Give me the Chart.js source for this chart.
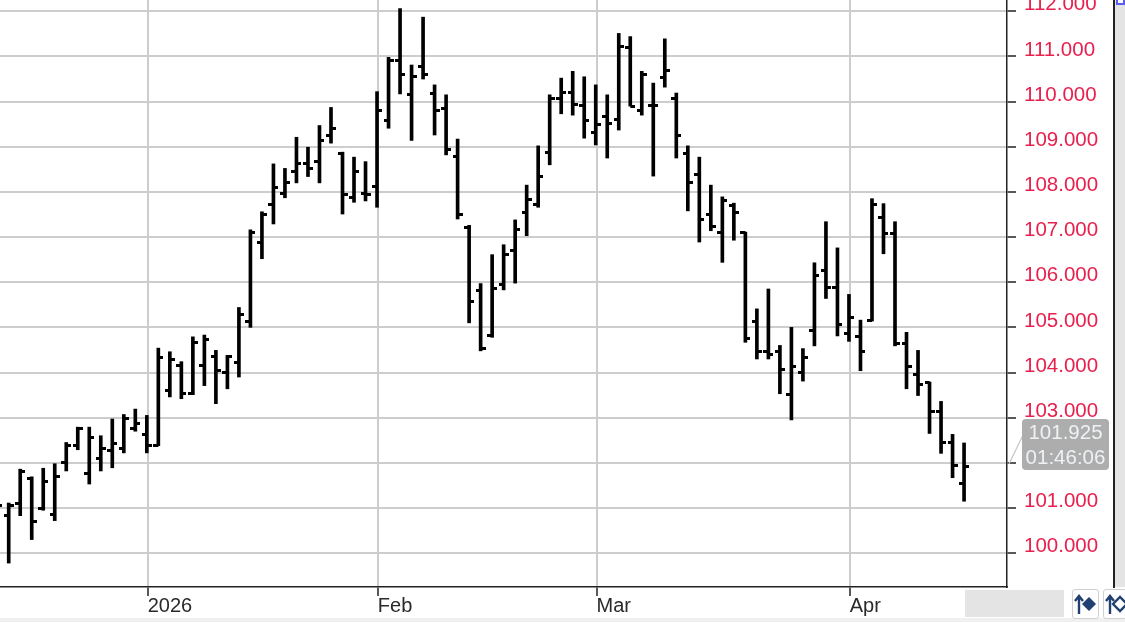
<!DOCTYPE html>
<html>
<head>
<meta charset="utf-8">
<title>OHLC chart</title>
<script src="https://cdn.jsdelivr.net/npm/chart.js@4/dist/chart.umd.min.js"></script>
<style>
  html, body { margin: 0; padding: 0; background: #fff; overflow: hidden; }
  #wrap { position: relative; width: 1125px; height: 622px; overflow: hidden; font-family: "Liberation Sans", sans-serif; }
  #plot { position: absolute; left: 0; top: 0; filter: blur(0.35px); }
  .side { position: absolute; left: 1115px; top: 0; width: 10px; height: 587px; background: #e4e4e4; }
  .sideline { position: absolute; left: 1113px; top: 0; width: 2px; height: 588px; background: #222; }
  .foot { position: absolute; left: 0; top: 618px; width: 1125px; height: 4px; background: #f0f0f0; }
  .block { position: absolute; left: 965px; top: 590px; width: 99px; height: 27px; background: #e4e4e4; }
  .blue { position: absolute; left: 1116px; top: 0; width: 9px; height: 5px; background: #fff; border: 2px solid #5a5af0; border-top: 0; box-sizing: border-box; }
  .btn { position: absolute; top: 589px; width: 27px; height: 30px; box-sizing: border-box; border: 1px solid #d0d0d0; border-radius: 3px; background: #fff; }
  #last { position: absolute; left: 1022px; top: 419px; width: 87px; height: 51px; background: #adadad; border-radius: 4px; color: #eef2f4; font-size: 20.5px; line-height: 25px; text-align: center; filter: blur(0.25px); }
  #link { position: absolute; left: 1008px; top: 430px; }
</style>
</head>
<body>
<div id="wrap">
  <div class="side"></div>
  <div class="blue"></div>
  <div class="foot"></div>
  <div class="block"></div>
  <div class="btn" style="left:1072px">
    <svg width="25" height="28"><path d="M6 24V8M2 11l4-5 4 5" stroke="#1f4070" stroke-width="2.4" fill="none"/><path d="M9 14l7-7 7 7-7 7z" fill="#1f4070"/></svg>
  </div>
  <div class="btn" style="left:1103px;width:24px">
    <svg width="25" height="28"><path d="M6 24V8M2 11l4-5 4 5" stroke="#1f4070" stroke-width="2.4" fill="none"/><path d="M9 14l7-7 7 7-7 7z" fill="none" stroke="#1f4070" stroke-width="2.4"/></svg>
  </div>
  <canvas id="plot" width="1125" height="622"></canvas>
  <div class="sideline"></div>
  <svg id="link" width="16" height="36"><path d="M1 34L15 5" stroke="#c4c4c4" stroke-width="1.2" fill="none"/></svg>
  <div id="last">101.925<br>01:46:06</div>
</div>

<script>
// first entry is the bar cut off by the left edge
const opens = [101.05,
  100.83,101.09,101.66,100.99,100.86,102.00,102.39,101.77,102.10,102.28,102.32,102.75,
  102.62,102.39,103.61,104.15,103.53,104.15,104.36,104.01,104.23,105.13,106.89,107.72,
  107.97,108.45,108.64,108.68,109.26,108.85,107.87,107.97,108.12,109.59,110.90,110.16,
  110.78,110.19,109.84,108.79,107.22,105.82,104.82,105.96,106.70,107.54,107.71,108.88,
  110.06,110.20,109.91,109.32,109.66,109.61,111.19,109.80,109.91,110.53,110.06,108.85,
  108.38,107.50,107.10,107.69,107.10,105.13,104.47,104.47,103.52,104.00,104.94,106.26,
  105.89,104.87,104.80,105.16,107.43,107.07,104.65,103.96,103.79,103.13,102.46,101.55];
const highs = [101.10,
  101.11,101.86,101.69,101.88,101.98,102.45,102.79,102.79,102.60,102.97,103.07,103.19,
  103.05,104.54,104.46,104.24,104.79,104.83,104.49,104.38,105.44,107.16,107.56,108.62,
  108.52,109.21,108.99,109.47,109.87,108.88,108.77,108.67,110.22,110.98,112.06,110.81,
  111.87,110.37,110.15,109.17,107.26,105.97,106.61,106.83,107.38,108.15,109.02,110.15,
  110.52,110.67,110.55,110.37,110.15,111.51,111.44,110.67,110.41,111.39,110.19,109.02,
  108.77,108.15,107.89,107.75,107.11,105.41,105.85,104.60,105.00,104.53,106.43,107.34,
  106.76,105.73,105.16,107.85,107.74,107.34,104.89,104.49,103.79,103.36,102.63,102.44];
const lows = [101.00,
  99.78,100.83,100.30,100.95,100.72,101.82,102.29,101.53,101.82,101.89,102.22,102.70,
  102.22,102.38,103.46,103.42,103.51,103.71,103.31,103.64,103.90,105.00,106.52,107.29,
  107.87,108.20,108.34,108.20,109.08,107.51,107.77,107.80,107.66,109.41,110.17,109.14,
  110.50,109.26,108.82,107.40,105.10,104.48,104.78,105.83,105.98,107.03,107.66,108.60,
  109.73,109.70,109.19,109.04,108.75,109.37,109.90,109.70,108.35,110.32,108.75,107.58,
  106.89,107.14,106.44,106.93,104.67,104.30,104.30,103.53,102.95,103.81,104.59,105.64,
  104.81,104.69,104.04,105.14,106.63,104.59,103.64,103.49,102.65,102.21,101.67,101.15];
const closes = [101.05,
  101.05,101.80,100.69,101.59,101.70,102.39,102.77,102.55,102.32,102.43,102.99,102.88,
  102.39,104.33,104.29,103.53,104.66,104.73,104.04,104.35,105.28,107.10,107.51,108.09,
  108.20,108.64,108.52,109.14,109.41,107.94,108.45,107.94,109.80,110.91,110.60,110.56,
  110.59,109.80,108.93,107.49,105.57,104.54,105.86,106.62,107.17,107.83,108.34,110.06,
  110.20,109.94,109.58,109.50,109.51,111.22,109.90,110.61,109.91,110.68,109.25,108.20,
  107.39,107.24,107.81,107.54,104.76,104.47,104.40,104.06,104.14,104.33,106.15,105.89,
  105.06,105.21,104.47,107.73,107.07,104.65,104.14,103.74,103.13,102.46,101.95,101.92];

const priceTicks = [100,101,102,103,104,105,106,107,108,109,110,111,112];
const monthTicks = [13.07,33.07,52.07,74.07];
const monthLabels = ["2026","Feb","Mar","Apr"];

// open tick sticks out left of the bar, close tick right
function tickMark(side){
  const c = document.createElement("canvas");
  c.width = 10;
  c.height = 3;
  const g = c.getContext("2d");
  g.fillStyle = "#000";
  g.fillRect(side === "left" ? 0 : 5, 0, 5, 3);
  return c;
}

// labels must not push the plot away from the edges
function noMargins(s){
  s.paddingLeft = s.paddingRight = s.paddingTop = s.paddingBottom = 0;
}

new Chart("plot", {
  data: {
    datasets: [
      {
        type: "bar",
        data: highs.map((h, i) => ({ x: i, y: [lows[i], h] })),
        backgroundColor: "#000",
        barThickness: 3,
        borderSkipped: false
      },
      {
        type: "line",
        showLine: false,
        data: opens.map((v, i) => ({ x: i, y: v })),
        pointStyle: tickMark("left"),
        pointRadius: 5
      },
      {
        type: "line",
        showLine: false,
        data: closes.map((v, i) => ({ x: i, y: v })),
        pointStyle: tickMark("right"),
        pointRadius: 5
      }
    ]
  },
  options: {
    responsive: false,
    animation: false,
    plugins: { legend: { display: false }, tooltip: { enabled: false } },
    layout: { padding: 0, autoPadding: false },
    scales: {
      x: {
        type: "linear",
        offset: false,
        min: 0.244,
        max: 87.73,
        afterBuildTicks: s => { s.ticks = monthTicks.map(v => ({ value: v })); },
        afterFit: s => { s.height = 35; noMargins(s); },
        grid: { offset: false, color: "#cdcdcd", lineWidth: 2, tickColor: "#222", tickLength: 9, tickWidth: 1.5 },
        border: { color: "#222", width: 1.5 },
        ticks: {
          autoSkip: false,
          maxRotation: 0,
          align: "start",
          padding: -2,
          color: "#2a2a2a",
          font: { family: "Liberation Sans", size: 20 },
          callback: (v, i) => monthLabels[i]
        }
      },
      y: {
        position: "right",
        min: 99.25,
        max: 112.25,
        afterBuildTicks: s => { s.ticks = priceTicks.map(v => ({ value: v })); },
        afterFit: s => { s.width = 118; noMargins(s); },
        grid: { color: "#cdcdcd", lineWidth: 2, tickColor: "#222", tickLength: 9, tickWidth: 1.5 },
        border: { color: "#222", width: 1.5 },
        ticks: {
          padding: 8,
          color: "#e8204e",
          font: { family: "Liberation Sans", size: 20.5, lineHeight: "13px" },
          // empty second line lifts the label above its tick
          callback: v => [v.toFixed(3), ""]
        }
      }
    }
  }
});
</script>
</body>
</html>
